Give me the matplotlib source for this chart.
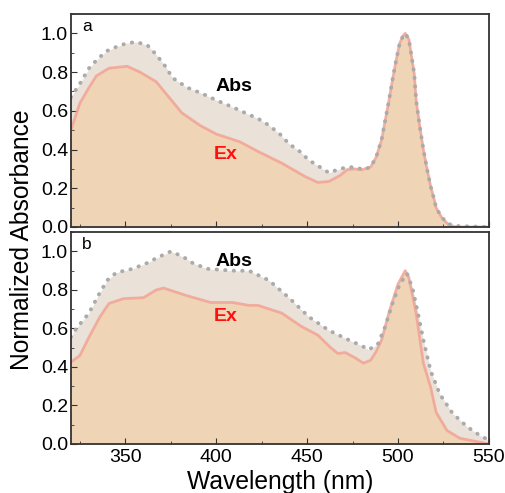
import matplotlib.pyplot as plt
from matplotlib.ticker import MultipleLocator

plt.rcParams['font.family'] = ['Liberation Sans', 'DejaVu Sans']

# panel a
wl_abs_a = [320, 325, 330, 335, 340, 345, 351, 356, 362, 367, 372, 376, 384, 392, 400, 410, 418, 423,
            429, 435, 440, 446, 451, 457, 462, 465, 468, 473, 478, 481, 485, 488, 491, 493, 495,
            497, 499, 501, 503, 504, 506, 507, 509, 510, 512, 514, 516, 518, 520, 521, 524, 528, 532, 550]
abs_a = [0.67, 0.74, 0.82, 0.87, 0.91, 0.93, 0.95, 0.955, 0.94, 0.89, 0.83, 0.77, 0.72, 0.69, 0.655,
         0.615, 0.58, 0.56, 0.525, 0.48, 0.43, 0.39, 0.345, 0.31, 0.28, 0.29, 0.30, 0.31, 0.305,
         0.295, 0.31, 0.36, 0.45, 0.55, 0.65, 0.76, 0.86, 0.95, 0.99, 1.0, 0.97, 0.91, 0.79, 0.655,
         0.52, 0.40, 0.30, 0.21, 0.14, 0.10, 0.05, 0.015, 0.005, 0.0]

wl_ex_a = [320, 325, 330, 334, 341, 346, 351, 358, 367, 374, 381, 391, 400, 413, 423, 436, 449, 456,
           462, 465, 468, 472, 476, 480, 485, 488, 491, 493, 495, 497, 499, 501, 503, 504, 506,
           507, 509, 510, 512, 514, 516, 518, 520, 521, 524, 528, 532, 550]
ex_a = [0.50, 0.64, 0.72, 0.78, 0.82, 0.825, 0.83, 0.80, 0.75, 0.67, 0.59, 0.525, 0.48, 0.44, 0.39,
        0.33, 0.26, 0.23, 0.235, 0.25, 0.265, 0.295, 0.30, 0.295, 0.31, 0.36, 0.45, 0.55, 0.65,
        0.76, 0.86, 0.95, 0.99, 1.0, 0.97, 0.91, 0.79, 0.655, 0.52, 0.40, 0.30, 0.21, 0.14, 0.10,
        0.05, 0.01, 0.0, 0.0]

# panel b
wl_abs_b = [320, 323, 330, 335, 340, 345, 354, 362, 368, 375, 380, 384, 387, 395, 409, 418, 429, 440,
            451, 462, 473, 480, 484, 489, 493, 497, 501, 505, 508, 511, 514, 518, 523, 530, 538, 545, 550]
abs_b = [0.555, 0.60, 0.68, 0.77, 0.85, 0.89, 0.91, 0.94, 0.97, 1.0, 0.98, 0.96, 0.94, 0.91, 0.90,
         0.90, 0.85, 0.76, 0.66, 0.59, 0.54, 0.51, 0.49, 0.52, 0.61, 0.73, 0.83, 0.885, 0.81,
         0.68, 0.54, 0.38, 0.26, 0.16, 0.09, 0.045, 0.02]

wl_ex_b = [320, 325, 330, 336, 341, 349, 360, 367, 371, 384, 397, 409, 418, 423, 436, 447, 456, 463,
           467, 471, 476, 481, 485, 488, 491, 495, 500, 504, 506, 510, 514, 518, 521, 527, 534, 550]
ex_b = [0.425, 0.46, 0.555, 0.66, 0.73, 0.755, 0.76, 0.80, 0.81, 0.77, 0.735, 0.735, 0.72, 0.72,
        0.68, 0.61, 0.565, 0.50, 0.47, 0.475, 0.45, 0.42, 0.435, 0.48, 0.54, 0.68, 0.83, 0.90,
        0.865, 0.68, 0.42, 0.295, 0.165, 0.07, 0.03, 0.0]

panels = [("a", wl_abs_a, abs_a, wl_ex_a, ex_a, (409.5, 0.727), (405, 0.376)),
          ("b", wl_abs_b, abs_b, wl_ex_b, ex_b, (409.5, 0.948), (405, 0.663))]

fig = plt.figure(figsize=(5.06, 4.93), dpi=100)
ax_top = fig.add_axes([0.140, 0.5396, 0.826, 0.432])
ax_bot = fig.add_axes([0.140, 0.0994, 0.826, 0.4296])

for ax, (tag, wa, ya, we, ye, abs_pos, ex_pos) in zip([ax_top, ax_bot], panels):
    ax.fill_between(wa, ya, 0, color='#EAE2D8', lw=0)
    ax.fill_between(we, ye, 0, color='#F0D4B6', lw=0)
    ax.plot(we, ye, color='#F2A394', lw=2, alpha=0.85)
    ax.plot(wa, ya, color='#ABABAB', lw=2.8, linestyle=(0, (0.1, 2.1)), dash_capstyle='round')
    ax.set_xlim(320, 550)
    ax.set_ylim(0, 1.1)
    ax.xaxis.set_major_locator(MultipleLocator(50))
    ax.xaxis.set_minor_locator(MultipleLocator(25))
    ax.yaxis.set_minor_locator(MultipleLocator(0.1))
    ax.tick_params(which='both', direction='in', labelsize=14, color='#333333')
    ax.tick_params(which='major', length=4)
    ax.tick_params(which='minor', length=2.5)
    ax.tick_params(axis='y', pad=2)
    ax.set_yticks([0, 0.2, 0.4, 0.6, 0.8, 1.0])
    ax.set_yticklabels(['0.0', '0.2', '0.4', '0.6', '0.8', '1.0'])
    for s in ax.spines.values():
        s.set_color('#333333')
        s.set_linewidth(1.3)
    ax.text(0.027, 0.975, tag, transform=ax.transAxes, fontsize=12.5, va='top', ha='left')
    ax.text(abs_pos[0], abs_pos[1], 'Abs', fontsize=14, fontweight='bold', color='black',
            ha='center', va='center')
    ax.text(ex_pos[0], ex_pos[1], 'Ex', fontsize=14, fontweight='bold', color='#FF1010',
            ha='center', va='center')

ax_top.tick_params(axis='x', labelbottom=False)

fig.text(0.043, 0.513, 'Normalized Absorbance', rotation=90, fontsize=17.7, ha='center', va='center')
fig.text(0.553, 0.046, 'Wavelength (nm)', fontsize=17.7, ha='center', va='top')

fig.savefig('out.png', dpi=100)
